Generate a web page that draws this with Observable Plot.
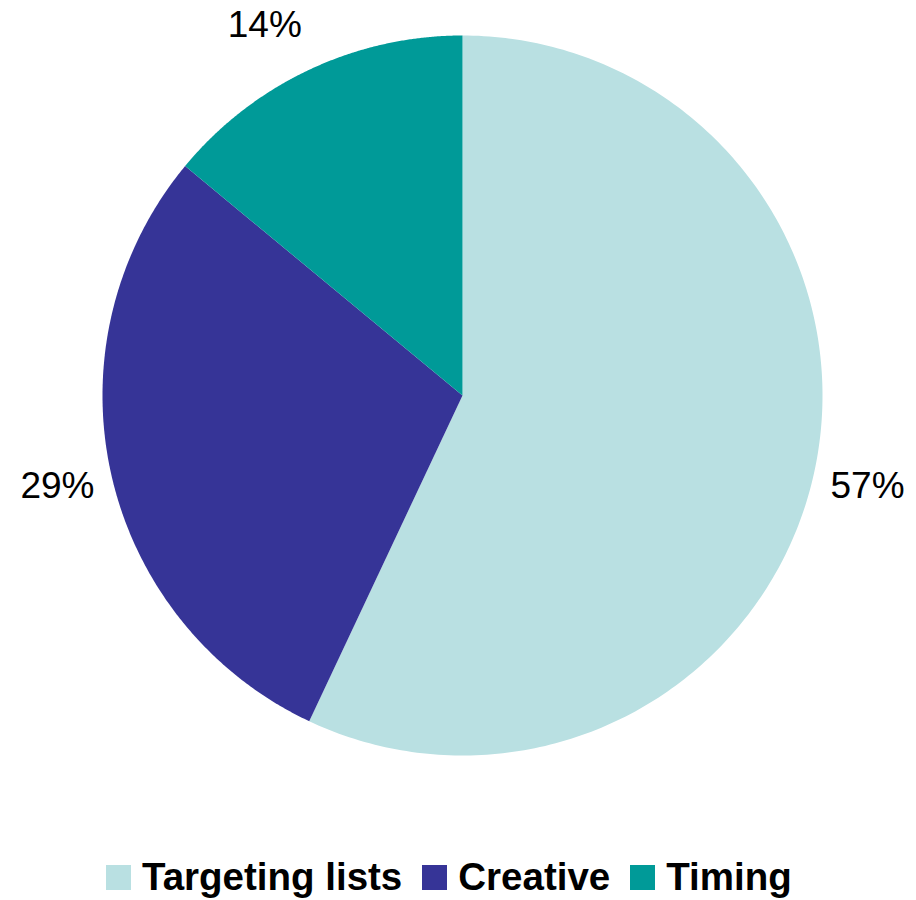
<!DOCTYPE html>
<html>
<head>
<meta charset="utf-8">
<script src="https://cdn.jsdelivr.net/npm/d3@7"></script>
<script src="https://cdn.jsdelivr.net/npm/@observablehq/plot@0.6"></script>
<style>
  html, body { margin: 0; padding: 0; background: #fff; }
  #wrap { position: relative; width: 916px; height: 900px; }
  #chart { position: absolute; left: 0; top: 0; }
  #legend { position: absolute; left: 106px; top: 858px; white-space: nowrap;
    font-family: "Liberation Sans", Arial, sans-serif; font-weight: bold; font-size: 38.5px; line-height: 38.5px; color: #000; }
  .sw { display: inline-block; width: 25px; height: 25px; vertical-align: baseline; margin-right: 11px; }
  .tx { margin-right: 20px; }
</style>
</head>
<body>
<div id="wrap"><div id="chart"></div><div id="legend"></div></div>
<script>
const categories = ["Targeting lists", "Creative", "Timing"];
const values = [57, 29, 14];
const labels = ["57%", "29%", "14%"];
const colors = ["#b9e0e2", "#363497", "#009a98"];

const R = 360;        // pie radius in chart units
const LR = 415;       // label radius
const W = 916, H = 840;
const cx = 462, cy = 395;

const pie = d3.pie().sort(null).value(d => d.value)(categories.map((c, i) => ({category: c, value: values[i], label: labels[i]})));

const slicePts = [];
const labelPts = [];
for (const a of pie) {
  const n = 240;
  slicePts.push({category: a.data.category, x: 0, y: 0});
  for (let k = 0; k <= n; k++) {
    const t = a.startAngle + (a.endAngle - a.startAngle) * k / n;
    slicePts.push({category: a.data.category, x: R * Math.sin(t), y: R * Math.cos(t)});
  }
  const m = (a.startAngle + a.endAngle) / 2;
  labelPts.push({label: a.data.label, x: LR * Math.sin(m), y: LR * Math.cos(m), small: a.data.value < 20});
}

const chart = Plot.plot({
  width: W, height: H,
  margin: 0,
  x: {domain: [-cx, W - cx], range: [0, W], axis: null},
  y: {domain: [-(H - cy), cy], range: [H, 0], axis: null},
  color: {domain: categories, range: colors},
  style: {fontFamily: '"Liberation Sans", Arial, sans-serif', background: "#fff"},
  marks: [
    Plot.line(slicePts, {x: "x", y: "y", z: "category", fill: "category", stroke: null, curve: "linear"}),
    Plot.text(labelPts.filter(d => !d.small), {x: "x", y: "y", text: "label", fontSize: 37, fill: "#000", textAnchor: "middle", lineAnchor: "middle"}),
    Plot.text(labelPts.filter(d => d.small), {x: "x", y: "y", text: "label", fontSize: 37, fill: "#000", textAnchor: "middle", lineAnchor: "middle", dx: -21, dy: 5})
  ]
});
document.getElementById("chart").appendChild(chart);

const lg = document.getElementById("legend");
categories.forEach((c, i) => {
  const sw = document.createElement("span");
  sw.className = "sw";
  sw.style.background = colors[i];
  const tx = document.createElement("span");
  tx.className = "tx";
  tx.textContent = c;
  lg.appendChild(sw); lg.appendChild(tx);
});
</script>
</body>
</html>
